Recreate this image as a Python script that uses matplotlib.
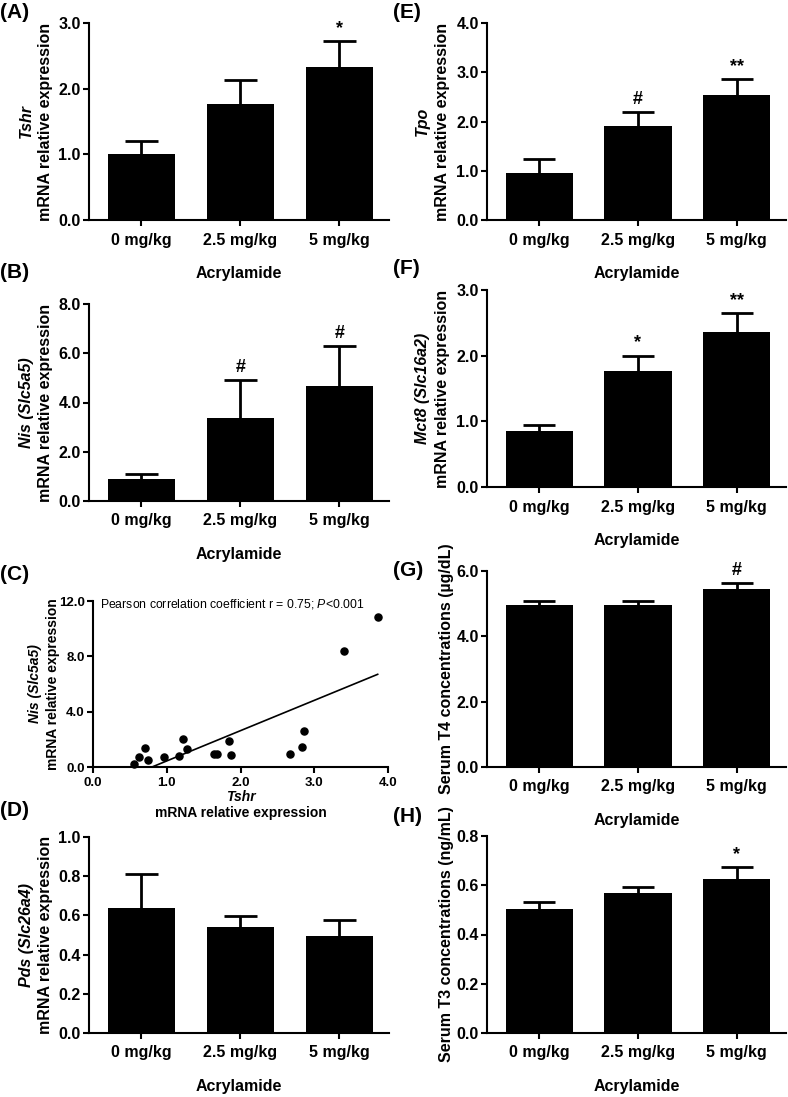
import numpy as np
import matplotlib
matplotlib.use('Agg')
import matplotlib.pyplot as plt
from matplotlib.ticker import FormatStrFormatter

# Dades llegides de la figura
groups = ['0 mg/kg', '2.5 mg/kg', '5 mg/kg']

tshr_mean = [1.00, 1.76, 2.33]
tshr_err = [0.20, 0.37, 0.39]
tshr_sig = ['', '', '*']

nis_mean = [0.88, 3.37, 4.66]
nis_err = [0.23, 1.53, 1.63]
nis_sig = ['', '#', '#']

pds_mean = [0.64, 0.54, 0.495]
pds_err = [0.17, 0.055, 0.08]
pds_sig = ['', '', '']

tpo_mean = [0.96, 1.90, 2.54]
tpo_err = [0.27, 0.29, 0.32]
tpo_sig = ['', '#', '**']

mct8_mean = [0.85, 1.76, 2.36]
mct8_err = [0.09, 0.24, 0.29]
mct8_sig = ['', '*', '**']

t4_mean = [4.95, 4.95, 5.46]
t4_err = [0.13, 0.12, 0.16]
t4_sig = ['', '', '#']

t3_mean = [0.505, 0.569, 0.627]
t3_err = [0.027, 0.023, 0.046]
t3_sig = ['', '', '*']

# Correlacio Tshr vs Nis
corr_tshr = [0.55, 0.62, 0.70, 0.74, 0.965, 1.17, 1.22, 1.28, 1.64, 1.68,
             1.84, 1.87, 2.67, 2.84, 2.86, 3.40, 3.86]
corr_nis = [0.24, 0.70, 1.39, 0.50, 0.70, 0.82, 1.99, 1.32, 0.94, 0.91,
            1.90, 0.84, 0.96, 1.42, 2.62, 8.42, 10.85]
fit_x = [0.80, 3.86]
fit_y = [0.0, 6.70]

plt.rcParams['font.family'] = ['Liberation Sans', 'DejaVu Sans']
plt.rcParams['font.weight'] = 'bold'
plt.rcParams['axes.labelweight'] = 'bold'
plt.rcParams['axes.linewidth'] = 1.5
plt.rcParams['mathtext.fontset'] = 'custom'
plt.rcParams['mathtext.rm'] = 'Liberation Sans:normal'
plt.rcParams['mathtext.it'] = 'Liberation Sans:italic:normal'
plt.rcParams['mathtext.bf'] = 'Liberation Sans:bold'

W, H = 788, 1097
fig = plt.figure(figsize=(W / 100, H / 100), dpi=100)


def px_axes(left, top, right, bottom):
    return fig.add_axes([left / W, 1 - bottom / H, (right - left) / W, (bottom - top) / H])


def bar_panel(ax, means, errs, sig, yticks, line1, line2, lx1=-0.21, lx2=-0.145):
    x = np.arange(len(groups))
    tops = np.array(means) + np.array(errs)
    ax.bar(x, means, width=0.68, color='black')
    # nomes la meitat superior de la barra d'error
    ax.vlines(x, means, tops, color='black', lw=2.0)
    ax.hlines(tops, x - 0.163, x + 0.163, color='black', lw=2.0)
    for xi, t, s in zip(x, tops, sig):
        if s:
            ax.annotate(s, (xi, t), xytext=(0, 3), textcoords='offset points',
                        ha='center', va='bottom', fontsize=13, fontweight='bold')
    ax.set_xlim(-0.53, 2.5)
    ax.set_ylim(0, yticks[-1])
    ax.set_yticks(yticks)
    ax.yaxis.set_major_formatter(FormatStrFormatter('%.1f'))
    ax.set_xticks(x)
    ax.set_xticklabels(groups)
    ax.spines[['top', 'right']].set_visible(False)
    ax.tick_params(length=4, width=1.5, labelsize=11.5)
    ax.tick_params(axis='x', pad=5)
    ax.tick_params(axis='y', pad=2)
    ax.set_xlabel('Acrylamide', fontsize=11.5, labelpad=13)
    if line1:
        ax.text(lx1, 0.5, line1, transform=ax.transAxes, rotation=90, ha='center', va='center',
                fontsize=11.5, fontweight='bold', fontstyle='italic')
    ax.text(lx2, 0.5, line2, transform=ax.transAxes, rotation=90, ha='center', va='center',
            fontsize=11.5, fontweight='bold')


# Columna esquerra
axA = px_axes(89, 23, 389, 220)
bar_panel(axA, tshr_mean, tshr_err, tshr_sig, [0, 1, 2, 3], 'Tshr', 'mRNA relative expression')

axB = px_axes(89, 304, 389, 501)
bar_panel(axB, nis_mean, nis_err, nis_sig, [0, 2, 4, 6, 8], 'Nis (Slc5a5)', 'mRNA relative expression')

axC = px_axes(93, 601, 388, 767)
axC.scatter(corr_tshr, corr_nis, s=26, color='black', clip_on=False, zorder=3)
axC.plot(fit_x, fit_y, color='black', lw=1.2)
axC.set_xlim(0, 4)
axC.set_ylim(0, 12)
axC.set_xticks([0, 1, 2, 3, 4])
axC.set_yticks([0, 4, 8, 12])
axC.xaxis.set_major_formatter(FormatStrFormatter('%.1f'))
axC.yaxis.set_major_formatter(FormatStrFormatter('%.1f'))
axC.spines[['top', 'right']].set_visible(False)
axC.tick_params(length=4, width=1.5, labelsize=9.5)
axC.tick_params(axis='y', pad=2)
axC.text(0.025, 0.98, 'Pearson correlation coefficient r = 0.75; $\\mathit{P}$<0.001', transform=axC.transAxes,
         ha='left', va='center', fontsize=8.8, fontweight='normal')
axC.text(-0.195, 0.5, 'Nis (Slc5a5)', transform=axC.transAxes, rotation=90, ha='center', va='center',
         fontsize=10, fontweight='bold', fontstyle='italic')
axC.text(-0.134, 0.5, 'mRNA relative expression', transform=axC.transAxes, rotation=90, ha='center',
         va='center', fontsize=10, fontweight='bold')
axC.text(0.5, -0.178, 'Tshr', transform=axC.transAxes, ha='center', va='center',
         fontsize=10, fontweight='bold', fontstyle='italic')
axC.text(0.5, -0.28, 'mRNA relative expression', transform=axC.transAxes, ha='center', va='center',
         fontsize=10, fontweight='bold')

axD = px_axes(89, 837, 389, 1033)
bar_panel(axD, pds_mean, pds_err, pds_sig, [0, 0.2, 0.4, 0.6, 0.8, 1.0], 'Pds (Slc26a4)', 'mRNA relative expression')

# Columna dreta
axE = px_axes(487, 23, 786, 220)
bar_panel(axE, tpo_mean, tpo_err, tpo_sig, [0, 1, 2, 3, 4], 'Tpo', 'mRNA relative expression', -0.217, -0.15)

axF = px_axes(487, 290, 786, 487)
bar_panel(axF, mct8_mean, mct8_err, mct8_sig, [0, 1, 2, 3], 'Mct8 (Slc16a2)', 'mRNA relative expression', -0.217, -0.15)

axG = px_axes(487, 571, 786, 767)
bar_panel(axG, t4_mean, t4_err, t4_sig, [0, 2, 4, 6], '', 'Serum T4 concentrations (\u00b5g/dL)', -0.217, -0.135)

axH = px_axes(487, 836, 786, 1033)
bar_panel(axH, t3_mean, t3_err, t3_sig, [0, 0.2, 0.4, 0.6, 0.8], '', 'Serum T3 concentrations (ng/mL)', -0.217, -0.135)

# Etiquetes dels panells
for lbl, px, py in [('(A)', 0, 13), ('(B)', 0, 273), ('(C)', 0, 575), ('(D)', 0, 810),
                    ('(E)', 393, 13), ('(F)', 393, 268), ('(G)', 393, 571), ('(H)', 393, 817)]:
    fig.text(px / W, 1 - py / H, lbl, ha='left', va='center', fontsize=15, fontweight='bold')

fig.savefig('out.png', dpi=100)
